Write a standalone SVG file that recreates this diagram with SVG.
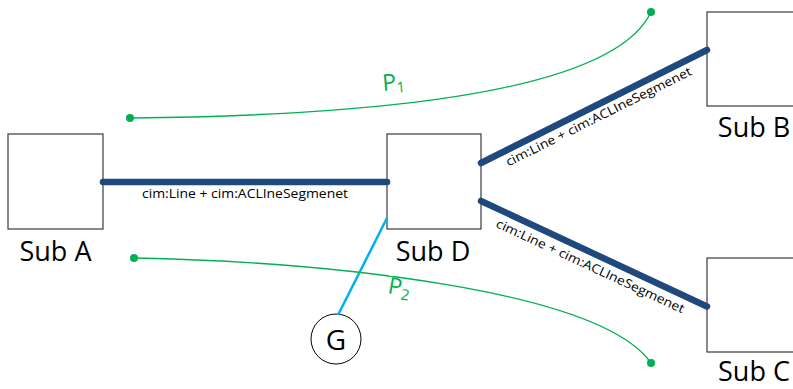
<svg xmlns="http://www.w3.org/2000/svg" width="793" height="389" viewBox="0 0 793 389">
<style>
.box{fill:#fff;stroke:#3a3a3a;stroke-width:1.2}
.sub{font-family:"Open Sans","Liberation Sans",sans-serif;font-size:27px;fill:#000;text-anchor:middle}
.line{stroke:#1F497D;stroke-width:6.5;stroke-linecap:round;fill:none}
.lbl{font-family:"Open Sans","Liberation Sans",sans-serif;font-size:12.5px;fill:#000;text-anchor:middle}
.path{stroke:#00B050;stroke-width:1.4;fill:none}
.dot{fill:#00B050}
.p{font-family:"Open Sans","Liberation Sans",sans-serif;font-size:23px;fill:#00B050}
</style>
<rect width="793" height="389" fill="#fff"/>
<g id="subA"><rect class="box" x="8" y="134" width="95" height="95"/><text class="sub" x="55.5" y="261">Sub A</text></g>
<g id="subD"><rect class="box" x="387" y="134" width="94" height="95"/><text class="sub" x="433" y="261">Sub D</text></g>
<g id="subB"><rect class="box" x="707" y="12" width="95" height="94"/><text class="sub" x="754" y="137">Sub B</text></g>
<g id="subC"><rect class="box" x="707" y="258" width="95" height="94"/><text class="sub" x="754" y="381">Sub C</text></g>
<g id="gen"><circle cx="336" cy="339" r="25" fill="#fff" stroke="#000" stroke-width="1"/><text x="336" y="350" font-family="Open Sans, Liberation Sans, sans-serif" font-size="28" text-anchor="middle">G</text></g>
<g id="connectors">
<line class="line" x1="103" y1="182" x2="387" y2="182"/>
<line class="line" x1="481" y1="163" x2="707" y2="50"/>
<line class="line" x1="481" y1="201" x2="707" y2="306.5"/>
<line x1="387" y1="218" x2="338" y2="315" stroke="#00B0F0" stroke-width="2.5"/>
<text class="lbl" x="245" y="198" textLength="206" lengthAdjust="spacingAndGlyphs">cim:Line + cim:ACLIneSegmenet</text>
<text class="lbl" transform="translate(600.5,120.5) rotate(-26.6)" textLength="206" lengthAdjust="spacingAndGlyphs">cim:Line + cim:ACLIneSegmenet</text>
<text class="lbl" transform="translate(588.5,270) rotate(24.9)" textLength="206" lengthAdjust="spacingAndGlyphs">cim:Line + cim:ACLIneSegmenet</text>
</g>
<g id="P1">
<path class="path" d="M130,118 C330,116 610,100 651,12"/>
<circle class="dot" cx="130" cy="118" r="4"/>
<circle class="dot" cx="651" cy="12" r="4"/>
<text class="p" transform="translate(383,91) rotate(-5)">P<tspan font-size="15" dy="3">1</tspan></text>
</g>
<g id="P2">
<path class="path" d="M134,258 C330,262 600,290 651,363"/>
<rect x="389.5" y="262" width="21" height="14" fill="#fff"/>
<circle class="dot" cx="134" cy="258" r="4"/>
<circle class="dot" cx="651" cy="363" r="4"/>
<text class="p" transform="translate(387,293) rotate(10)">P<tspan font-size="15" dy="4">2</tspan></text>
</g>
</svg>
